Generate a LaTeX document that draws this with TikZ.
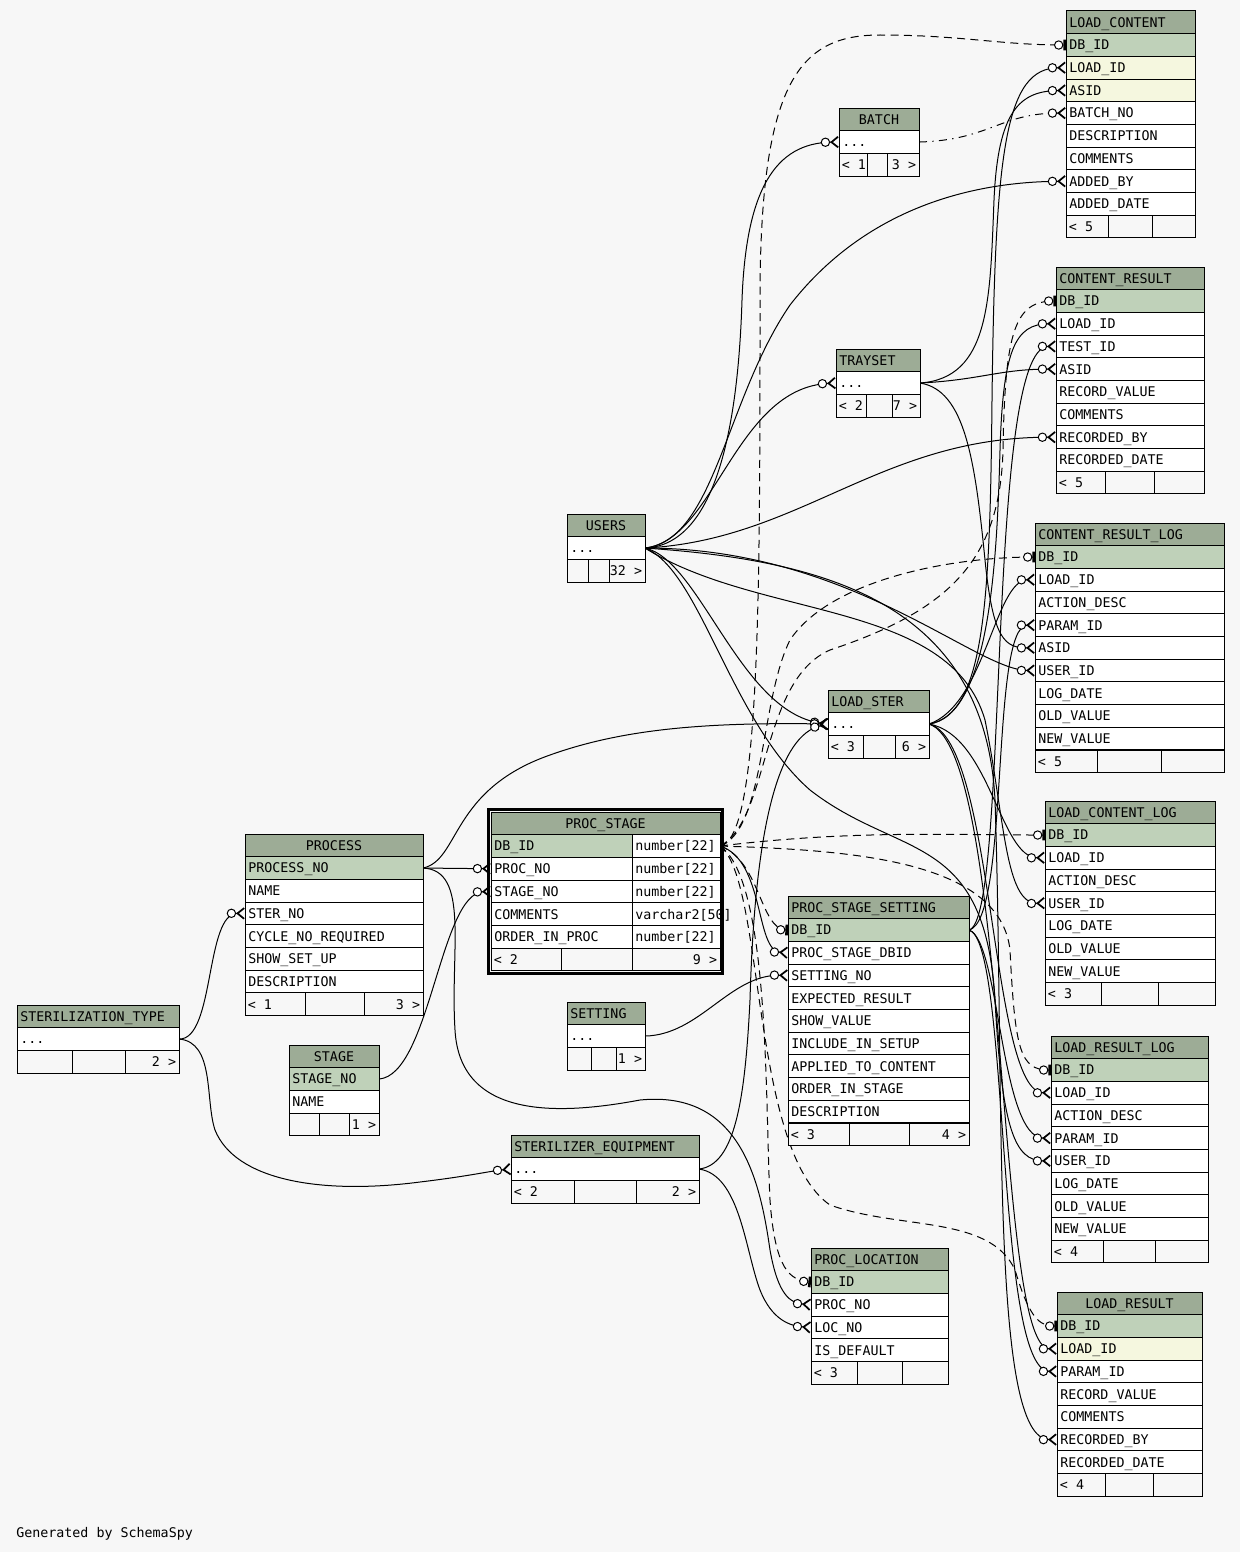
\documentclass[tikz,border=0pt]{standalone}
\usepackage{fontspec}
\setmonofont{DejaVu Sans Mono}
\usetikzlibrary{arrows.meta,backgrounds}
\definecolor{hdrgreen}{RGB}{157,172,150}
\definecolor{pkgreen}{RGB}{191,209,185}
\definecolor{idxyellow}{RGB}{245,247,223}
\definecolor{pagebg}{RGB}{247,247,247}

\newcommand{\threedots}{...}
\newcommand{\footA}{0.333}
\newcommand{\footB}{0.667}
\newcommand{\footsplit}[2]{\renewcommand{\footA}{#1}\renewcommand{\footB}{#2}}
% one table: [title align]{name}{x}{y}{width}{title}{rows}{footer left}{footer right}
\newcommand{\dbtable}[9][left]{%
  \pgfmathsetlengthmacro{\tw}{#5*0.75pt-5pt}%
  \node[tblhead, align=#1, minimum width=#5*0.75pt, text width=\tw] (#2) at (#3,#4) {#6};
  \foreach \txt/\fc/\nm [count=\i] in {#7}{
    \node[tblrow, fill=\fc, minimum width=#5*0.75pt, text width=\tw] (#2-\nm) at (#3,{#4+22.7*\i}) {\txt};
    \xdef\nrows{\i}
  }
  \pgfmathsetmacro{\fy}{#4+22.7*(\nrows+1)}%
  \node[tblfoot, minimum width=\footA*#5*0.75pt] (#2-fl) at (#3,\fy) {};
  \node[tblfoot, minimum width=(\footB-\footA)*#5*0.75pt] (#2-fm) at ({#3+\footA*#5},\fy) {};
  \node[tblfoot, minimum width=(1-\footB)*#5*0.75pt] (#2-fr) at ({#3+\footB*#5},\fy) {};
  \node[foottext, anchor=west] (#2-flt) at (#2-fl.west) {#8};
  \node[foottext, anchor=east] (#2-frt) at (#2-fr.east) {#9};
}

\begin{document}
\begin{tikzpicture}[x=0.75pt,y=-0.75pt]
  \tikzstyle{cell}=[draw, anchor=north west, line width=0.75pt, minimum height=17pt,
    inner xsep=2.5pt, inner ysep=0pt, outer sep=0pt, text height=7.3pt, text depth=0pt,
    font=\ttfamily\fontsize{10}{12}\selectfont]
  \tikzstyle{tblhead}=[cell, fill=hdrgreen]
  \tikzstyle{tblrow}=[cell]
  \tikzstyle{tblfoot}=[cell, fill=pagebg]
  \tikzstyle{foottext}=[inner xsep=2pt, inner ysep=0pt, text height=7.3pt, text depth=0pt,
    font=\ttfamily\fontsize{10}{12}\selectfont]
  \tikzstyle{fkline}=[line width=0.75pt]
  \tikzstyle{implied}=[line width=0.75pt, dash pattern=on 6pt off 4pt]
  \tikzstyle{implieddot}=[line width=0.75pt, dash pattern=on 6pt off 4pt on 1pt off 4pt]
  \tikzstyle{tomany}=[-{Circle[fill=white,length=7pt,width=7pt,line width=0.75pt] Straight Barb[reversed,length=5pt,width=8pt,line width=1.3pt]}]
  \tikzstyle{toone}=[-{Circle[fill=white,length=7pt,width=7pt,line width=0.75pt] Bar[width=8pt,line width=2pt]}]
  \useasboundingbox (0,0) rectangle (1240,1552);

  % tables on the right
  \dbtable{lc}{1066}{11}{129}{LOAD\_CONTENT}{DB\_ID/pkgreen/dbid, LOAD\_ID/idxyellow/loadid,
    ASID/idxyellow/asid, BATCH\_NO/white/batchno, DESCRIPTION/white/desc, COMMENTS/white/comments,
    ADDED\_BY/white/addedby, ADDED\_DATE/white/addeddate}{< 5}{}
  \dbtable{cr}{1056}{267}{148}{CONTENT\_RESULT}{DB\_ID/pkgreen/dbid, LOAD\_ID/white/loadid,
    TEST\_ID/white/testid, ASID/white/asid, RECORD\_VALUE/white/recval, COMMENTS/white/comments,
    RECORDED\_BY/white/recby, RECORDED\_DATE/white/recdate}{< 5}{}
  \dbtable{crl}{1035}{523}{189}{CONTENT\_RESULT\_LOG}{DB\_ID/pkgreen/dbid, LOAD\_ID/white/loadid,
    ACTION\_DESC/white/action, PARAM\_ID/white/paramid, ASID/white/asid, USER\_ID/white/userid,
    LOG\_DATE/white/logdate, OLD\_VALUE/white/old, NEW\_VALUE/white/new}{< 5}{}
  \dbtable{lcl}{1045}{801}{170}{LOAD\_CONTENT\_LOG}{DB\_ID/pkgreen/dbid, LOAD\_ID/white/loadid,
    ACTION\_DESC/white/action, USER\_ID/white/userid, LOG\_DATE/white/logdate,
    OLD\_VALUE/white/old, NEW\_VALUE/white/new}{< 3}{}
  \dbtable{lrl}{1051}{1036}{157}{LOAD\_RESULT\_LOG}{DB\_ID/pkgreen/dbid, LOAD\_ID/white/loadid,
    ACTION\_DESC/white/action, PARAM\_ID/white/paramid, USER\_ID/white/userid,
    LOG\_DATE/white/logdate, OLD\_VALUE/white/old, NEW\_VALUE/white/new}{< 4}{}
  \dbtable[center]{lr}{1057}{1292}{145}{LOAD\_RESULT}{DB\_ID/pkgreen/dbid, LOAD\_ID/idxyellow/loadid,
    PARAM\_ID/white/paramid, RECORD\_VALUE/white/recval, COMMENTS/white/comments,
    RECORDED\_BY/white/recby, RECORDED\_DATE/white/recdate}{< 4}{}

  % small tables
  \footsplit{0.36}{0.61}
  \dbtable[center]{batch}{839}{108}{80}{BATCH}{\threedots/white/dots}{< 1}{3 >}
  \footsplit{0.36}{0.67}
  \dbtable{tray}{836}{349}{84}{TRAYSET}{\threedots/white/dots}{< 2}{7 >}
  \footsplit{0.28}{0.54}
  \dbtable[center]{users}{567}{514}{78}{USERS}{\threedots/white/dots}{}{32 >}
  \footsplit{0.35}{0.67}
  \dbtable{ls}{828}{690}{101}{LOAD\_STER}{\threedots/white/dots}{< 3}{6 >}
  \footsplit{0.32}{0.63}
  \dbtable{setting}{567}{1002}{78}{SETTING}{\threedots/white/dots}{}{1 >}
  \footsplit{0.34}{0.67}
  \dbtable{sty}{17}{1005}{162}{STERILIZATION\_TYPE}{\threedots/white/dots}{}{2 >}
  \dbtable{se}{511}{1135}{188}{STERILIZER\_EQUIPMENT}{\threedots/white/dots}{< 2}{2 >}

  % middle and left
  \dbtable[center]{proc}{245}{834}{178}{PROCESS}{PROCESS\_NO/pkgreen/procno, NAME/white/name,
    STER\_NO/white/sterno, CYCLE\_NO\_REQUIRED/white/cycle, SHOW\_SET\_UP/white/setup,
    DESCRIPTION/white/desc}{< 1}{3 >}
  \dbtable[center]{stage}{289}{1045}{90}{STAGE}{STAGE\_NO/pkgreen/stageno, NAME/white/name}{}{1 >}
  \dbtable{pss}{788}{896}{181}{PROC\_STAGE\_SETTING}{DB\_ID/pkgreen/dbid, PROC\_STAGE\_DBID/white/psdbid,
    SETTING\_NO/white/settingno, EXPECTED\_RESULT/white/expected, SHOW\_VALUE/white/show,
    INCLUDE\_IN\_SETUP/white/include, APPLIED\_TO\_CONTENT/white/applied,
    ORDER\_IN\_STAGE/white/order, DESCRIPTION/white/desc}{< 3}{4 >}
  \dbtable{pl}{811}{1248}{137}{PROC\_LOCATION}{DB\_ID/pkgreen/dbid, PROC\_NO/white/procno,
    LOC\_NO/white/locno, IS\_DEFAULT/white/default}{< 3}{}

  % the selected table, with types
  \node[tblhead, align=center, minimum width=229*0.75pt, text width=166.75pt] (ps) at (491,812) {PROC\_STAGE};
  \foreach \txt/\typ/\fc/\nm [count=\i] in {DB\_ID/number[22]/pkgreen/dbid, PROC\_NO/number[22]/white/procno,
      STAGE\_NO/number[22]/white/stageno, COMMENTS/varchar2[50]/white/comments,
      ORDER\_IN\_PROC/number[22]/white/order}{
    \node[tblrow, fill=\fc, minimum width=141*0.75pt, text width=100.75pt] (ps-\nm) at (491,{812+22.7*\i}) {\txt};
    \node[tblrow, fill=white, minimum width=88*0.75pt, text width=61pt] (ps-\nm-t) at (632,{812+22.7*\i}) {\typ};
  }
  \node[tblfoot, minimum width=70*0.75pt] (ps-fl) at (491,948.2) {};
  \node[tblfoot, minimum width=71*0.75pt] (ps-fm) at (561,948.2) {};
  \node[tblfoot, minimum width=88*0.75pt] (ps-fr) at (632,948.2) {};
  \node[foottext, anchor=west] (ps-flt) at (ps-fl.west) {< 2};
  \node[foottext, anchor=east] (ps-frt) at (ps-fr.east) {9 >};
  \draw[line width=2.2pt] ([shift={(-2.5,-2.5)}]ps.north west) rectangle ([shift={(2.5,2.5)}]ps-fr.south east);

  \node[anchor=base west, inner sep=0pt, font=\ttfamily\fontsize{10}{12}\selectfont] (credit) at (16,1537) {Generated by SchemaSpy};

  \begin{scope}[on background layer]
    \fill[pagebg] (0,0) rectangle (1240,1552);
    % USERS
    \draw[fkline, tomany] (users-dots.east) .. controls (715,545) and (738,430) .. (742,300) .. controls (746,190) and (775,143) .. (batch-dots.west);
    \draw[fkline, tomany] (users-dots.east) .. controls (715,540) and (725,400) .. (790,305) .. controls (860,215) and (960,182) .. (lc-addedby.west);
    \draw[fkline, tomany] (users-dots.east) .. controls (715,540) and (735,388) .. (tray-dots.west);
    \draw[fkline, tomany] (users-dots.east) .. controls (800,540) and (880,437) .. (cr-recby.west);
    \draw[fkline, tomany] (users-dots.east) .. controls (850,548) and (975,670) .. (crl-userid.west);
    \draw[fkline, tomany] (users-dots.east) .. controls (760,620) and (950,600) .. (985,720) .. controls (1005,820) and (1005,904) .. (lcl-userid.west);
    \draw[fkline, tomany] (users-dots.east) .. controls (700,570) and (730,720) .. (810,790) .. controls (900,860) and (985,830) .. (995,1000) .. controls (1002,1130) and (1015,1161) .. (lrl-userid.west);
    \draw[fkline, tomany] (users-dots.east) .. controls (820,560) and (985,600) .. (995,800) .. controls (1005,1100) and (990,1440) .. (lr-recby.west);
    \draw[fkline, tomany] (users-dots.east) .. controls (700,560) and (740,712) .. (ls-dots.west);
    % TRAYSET
    \draw[fkline, tomany] (tray-dots.east) .. controls (990,378) and (990,300) .. (994,200) .. controls (998,110) and (1020,91) .. (lc-asid.west);
    \draw[fkline, tomany] (tray-dots.east) .. controls (980,380) and (1000,369) .. (cr-asid.west);
    \draw[fkline, tomany] (tray-dots.east) .. controls (965,390) and (975,460) .. (985,560) .. controls (993,640) and (1005,648) .. (crl-asid.west);
    % LOAD_STER
    \draw[fkline, tomany] (ls-dots.east) .. controls (985,715) and (990,600) .. (992,400) .. controls (995,150) and (1005,68) .. (lc-loadid.west);
    \draw[fkline, tomany] (ls-dots.east) .. controls (990,715) and (997,560) .. (1000,450) .. controls (1003,350) and (1015,324) .. (cr-loadid.west);
    \draw[fkline, tomany] (ls-dots.east) .. controls (985,705) and (995,580) .. (crl-loadid.west);
    \draw[fkline, tomany] (ls-dots.east) .. controls (990,735) and (1000,858) .. (lcl-loadid.west);
    \draw[fkline, tomany] (ls-dots.east) .. controls (995,740) and (990,1093) .. (lrl-loadid.west);
    \draw[fkline, tomany] (ls-dots.east) .. controls (1010,750) and (995,1349) .. (lr-loadid.west);
    % PROC_STAGE_SETTING
    \draw[fkline, tomany] (pss-dbid.east) .. controls (1010,920) and (985,346) .. (cr-testid.west);
    \draw[fkline, tomany] (pss-dbid.east) .. controls (1010,920) and (990,625) .. (crl-paramid.west);
    \draw[fkline, tomany] (pss-dbid.east) .. controls (1000,940) and (1000,1138) .. (lrl-paramid.west);
    \draw[fkline, tomany] (pss-dbid.east) .. controls (1010,940) and (995,1371) .. (lr-paramid.west);
    % BATCH
    \draw[implieddot, tomany] (batch-dots.east) .. controls (990,140) and (1000,113) .. (lc-batchno.west);
    % PROC_STAGE
    \draw[implied, toone] (ps-dbid-t.east) .. controls (760,840) and (760,600) .. (760,300) .. controls (760,80) and (800,35) .. (880,35) .. controls (960,35) and (1000,45) .. (lc-dbid.west);
    \draw[implied, toone] (ps-dbid-t.east) .. controls (770,820) and (760,680) .. (830,650) .. controls (950,610) and (1000,560) .. (1003,450) .. controls (1005,330) and (1015,301) .. (cr-dbid.west);
    \draw[implied, toone] (ps-dbid-t.east) .. controls (765,830) and (760,700) .. (790,640) .. controls (830,580) and (950,557) .. (crl-dbid.west);
    \draw[implied, toone] (ps-dbid-t.east) .. controls (850,830) and (950,835) .. (lcl-dbid.west);
    \draw[implied, toone] (ps-dbid-t.east) .. controls (850,850) and (1000,860) .. (1010,950) .. controls (1015,1050) and (1020,1070) .. (lrl-dbid.west);
    \draw[implied, toone] (ps-dbid-t.east) .. controls (765,880) and (750,1150) .. (830,1205) .. controls (900,1230) and (990,1215) .. (1015,1270) .. controls (1030,1320) and (1040,1326) .. (lr-dbid.west);
    \draw[implied, toone] (ps-dbid-t.east) .. controls (760,860) and (760,929) .. (pss-dbid.west);
    \draw[implied, toone] (ps-dbid-t.east) .. controls (770,880) and (765,1100) .. (770,1200) .. controls (775,1270) and (790,1280) .. (pl-dbid.west);
    \draw[fkline, tomany] (ps-dbid-t.east) .. controls (765,860) and (755,951) .. (pss-psdbid.west);
    % PROCESS
    \draw[fkline, tomany] (proc-procno.east) -- (ps-procno.west);
    \draw[fkline, tomany] (proc-procno.east) .. controls (460,860) and (450,790) .. (550,755) .. controls (620,730) and (700,722) .. (ls-dots.west);
    \draw[fkline, tomany] (proc-procno.east) .. controls (470,870) and (450,950) .. (455,1030) .. controls (460,1120) and (560,1115) .. (640,1100) .. controls (740,1090) and (760,1180) .. (770,1250) .. controls (778,1295) and (790,1303) .. (pl-procno.west);
    % STAGE, STERILIZATION_TYPE, SETTING
    \draw[fkline, tomany] (stage-stageno.east) .. controls (430,1075) and (440,893) .. (ps-stageno.west);
    \draw[fkline, tomany] (sty-dots.east) .. controls (215,1040) and (205,913) .. (proc-sterno.west);
    \draw[fkline, tomany] (sty-dots.east) .. controls (215,1042) and (205,1100) .. (215,1130) .. controls (235,1180) and (320,1195) .. (420,1182) .. controls (470,1176) and (490,1171) .. (se-dots.west);
    \draw[fkline, tomany] (setting-dots.east) .. controls (700,1035) and (730,974) .. (pss-settingno.west);
    % STERILIZER_EQUIPMENT
    \draw[fkline, tomany] (se-dots.east) .. controls (735,1165) and (745,1100) .. (750,1000) .. controls (755,820) and (780,735) .. (ls-dots.west);
    \draw[fkline, tomany] (se-dots.east) .. controls (740,1175) and (745,1250) .. (760,1290) .. controls (772,1320) and (790,1326) .. (pl-locno.west);
  \end{scope}
\end{tikzpicture}
\end{document}
